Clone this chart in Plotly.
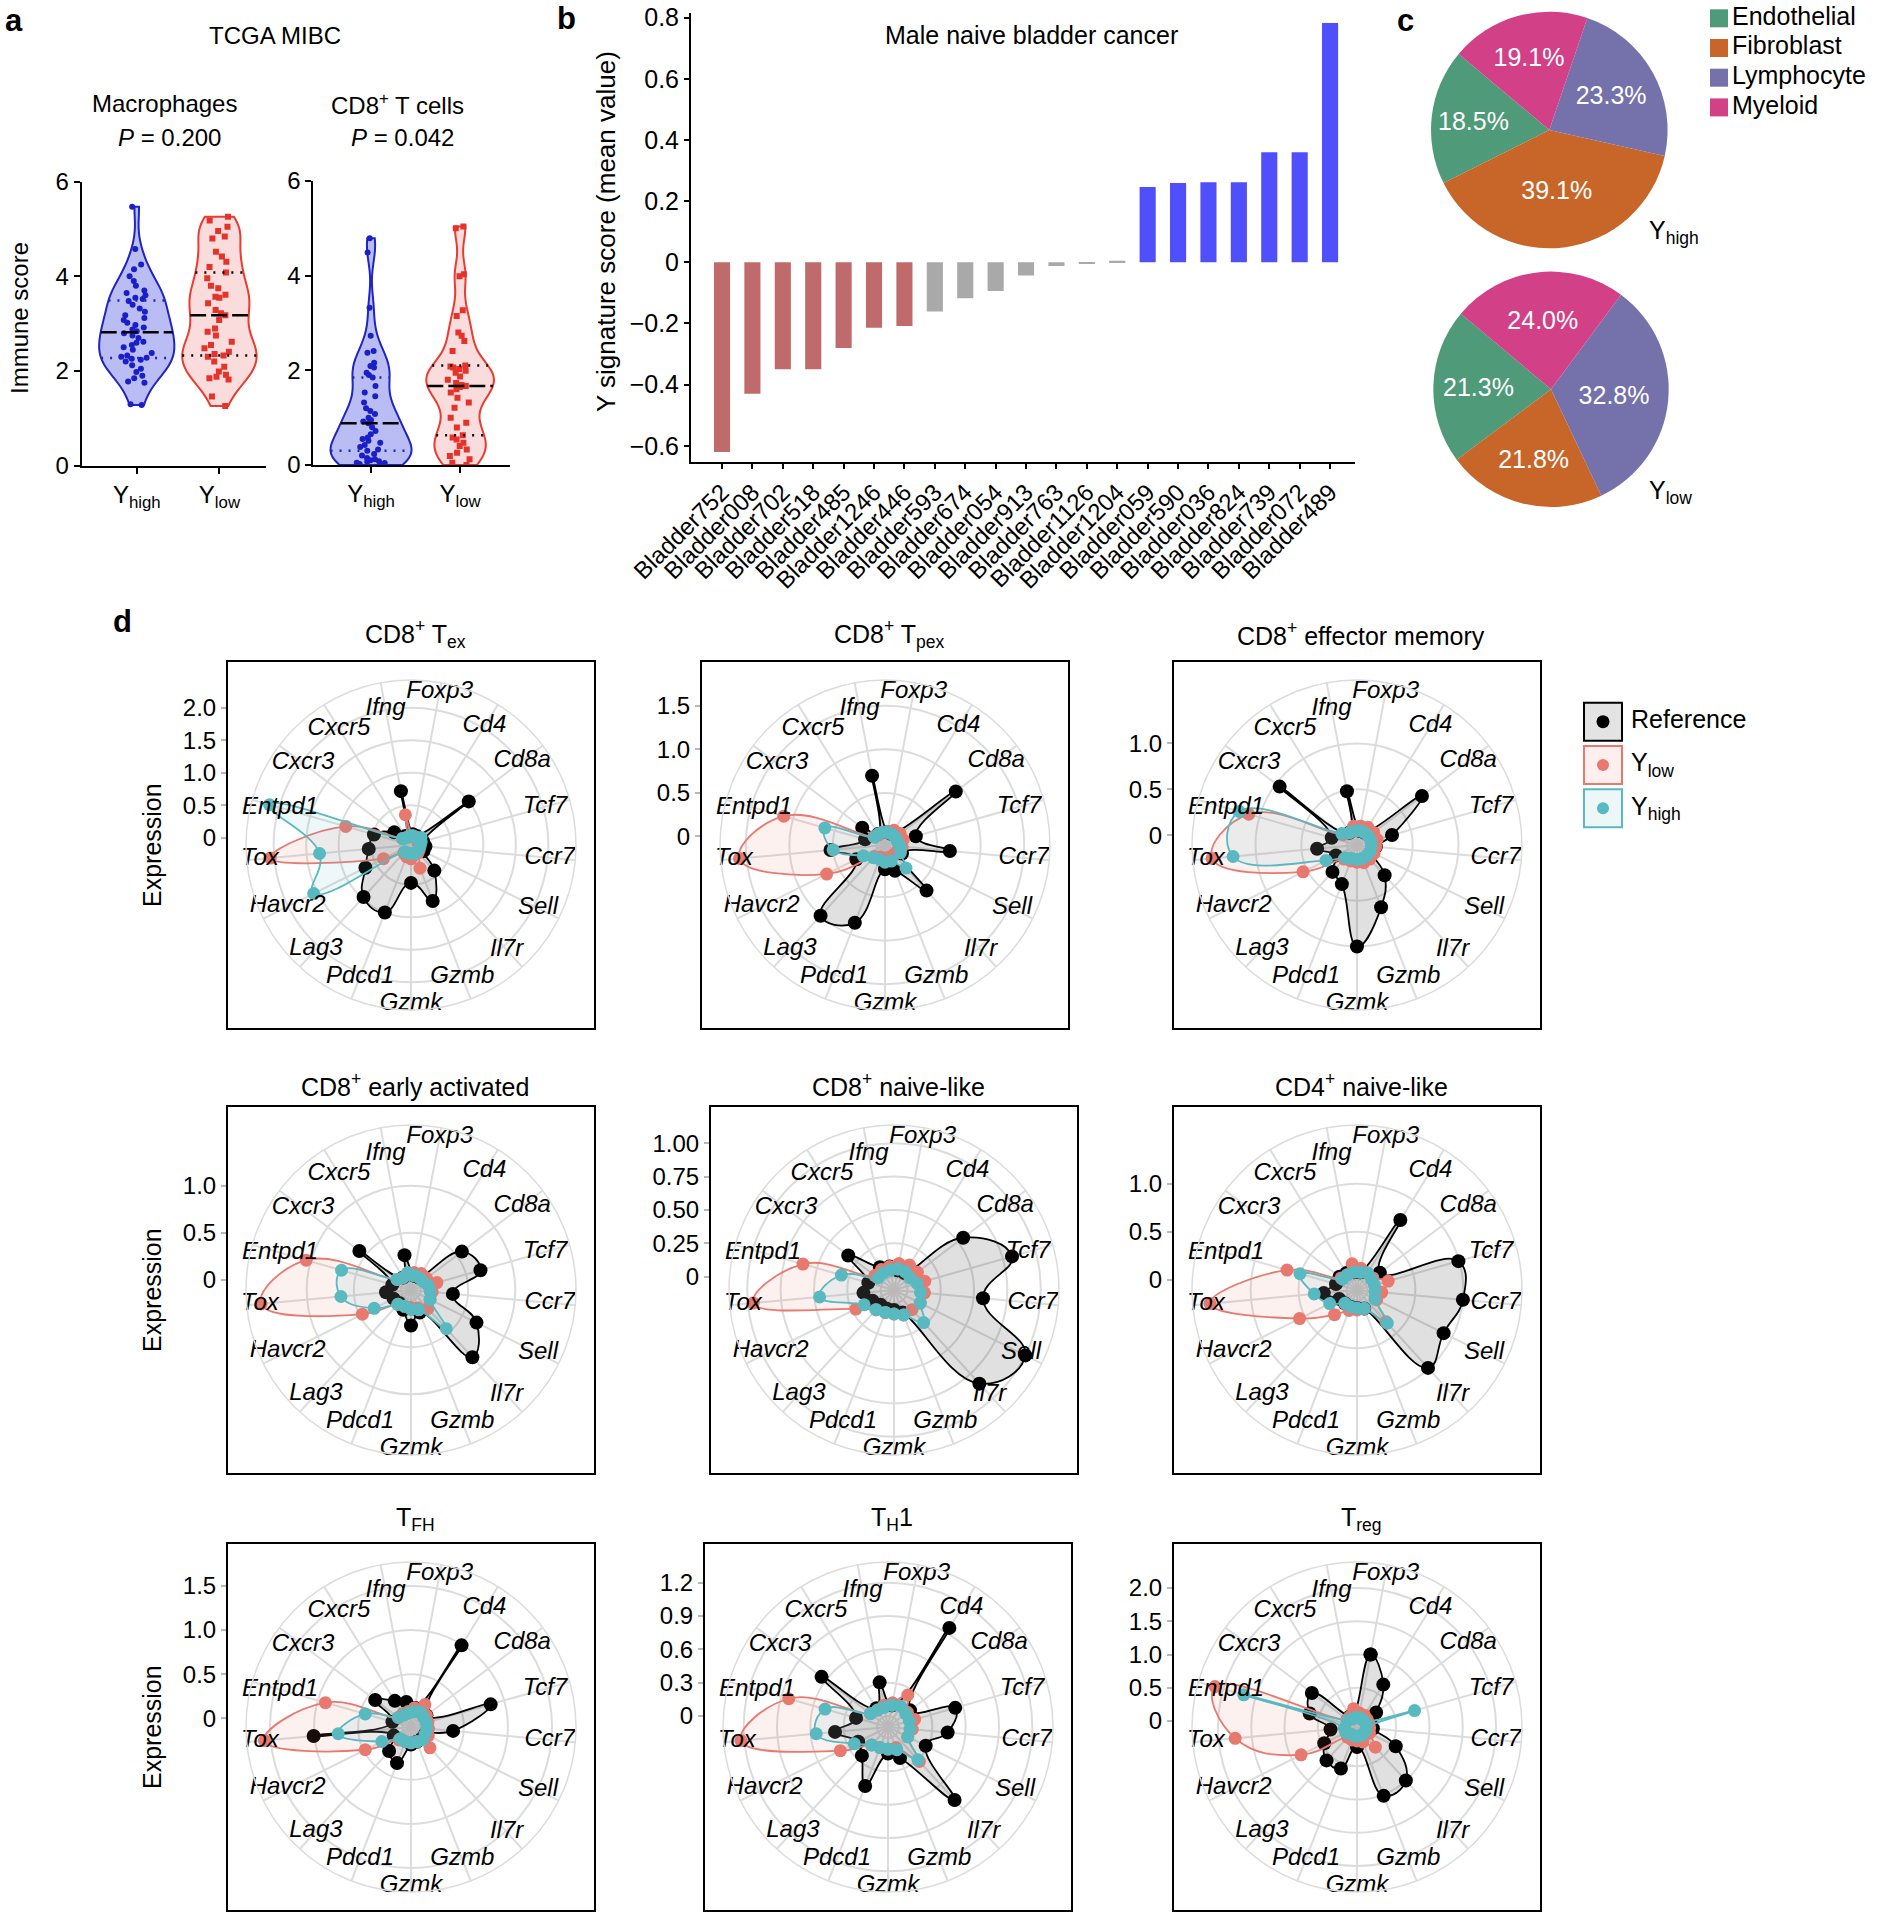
import numpy as np
import plotly.graph_objects as go

W, H = 1877, 1917
FONT = "Liberation Sans"
GRID = "#dcdcdc"

# ---------------- panel a: TCGA MIBC immune scores
MAC_HIGH = [1.28, 1.30, 1.75, 1.78, 1.85, 1.9, 1.98, 2.05, 2.12, 2.2, 2.24, 2.26, 2.28, 2.3, 2.33, 2.38,
            2.45, 2.5, 2.55, 2.6, 2.62, 2.7, 2.75, 2.8, 2.84, 2.88, 2.92, 2.97, 3.02, 3.08, 3.12, 3.18,
            3.25, 3.32, 3.4, 3.48, 3.52, 3.55, 3.6, 3.65, 3.7, 3.8, 3.9, 4.0, 4.15, 4.25, 4.58, 5.47]
MAC_LOW = [1.26, 1.46, 1.82, 1.85, 1.88, 1.92, 1.99, 2.09, 2.2, 2.3, 2.33, 2.36, 2.41, 2.48, 2.55, 2.62,
           2.75, 2.83, 2.9, 3.08, 3.18, 3.22, 3.29, 3.43, 3.55, 3.57, 3.61, 3.75, 3.8, 3.96, 4.08, 4.2,
           4.31, 4.42, 4.52, 4.8, 4.84, 4.96, 5.05, 5.18, 5.26]
CD8_HIGH = [0.0, 0.02, 0.04, 0.05, 0.07, 0.08, 0.1, 0.12, 0.15, 0.2, 0.23, 0.3, 0.33, 0.38, 0.42, 0.47,
            0.51, 0.55, 0.58, 0.65, 0.72, 0.8, 0.88, 0.92, 0.95, 1.0, 1.08, 1.14, 1.2, 1.32, 1.45, 1.53,
            1.67, 1.85, 1.9, 1.95, 2.06, 2.09, 2.16, 2.37, 2.41, 2.73, 3.32, 4.49, 4.79]
CD8_LOW = [0.0, 0.05, 0.12, 0.19, 0.26, 0.33, 0.4, 0.47, 0.54, 0.58, 0.63, 0.79, 0.89, 1.0, 1.21, 1.32,
           1.42, 1.53, 1.6, 1.65, 1.67, 1.69, 1.73, 1.8, 1.87, 1.95, 1.99, 2.03, 2.06, 2.08, 2.1, 2.41,
           2.62, 2.73, 2.8, 3.15, 3.27, 3.99, 4.03, 5.0, 5.04]
VIOLIN_TITLES = ["Macrophages", "CD8<sup>+</sup> T cells"]
P_VALUES = ["0.200", "0.042"]

# ---------------- panel b: male naive bladder cancer
SAMPLES = ["Bladder752", "Bladder008", "Bladder702", "Bladder518", "Bladder485", "Bladder1246",
           "Bladder446", "Bladder593", "Bladder674", "Bladder054", "Bladder913", "Bladder763",
           "Bladder1126", "Bladder1204", "Bladder059", "Bladder590", "Bladder036", "Bladder824",
           "Bladder739", "Bladder072", "Bladder489"]
SCORES = [-0.62, -0.43, -0.35, -0.35, -0.28, -0.214, -0.208, -0.161, -0.118, -0.094, -0.043,
          -0.012, -0.004, 0.005, 0.246, 0.259, 0.262, 0.262, 0.36, 0.36, 0.782]
GROUPS = ["low", "low", "low", "low", "low", "low", "low", "mid", "mid", "mid", "mid", "mid", "mid",
          "mid", "high", "high", "high", "high", "high", "high", "high"]
B_TICKS = [-0.6, -0.4, -0.2, 0, 0.2, 0.4, 0.6, 0.8]

# ---------------- panel c: cell type composition
CELL_TYPES = ["Endothelial", "Fibroblast", "Lymphocyte", "Myeloid"]
PCT_HIGH = [18.5, 39.1, 23.3, 19.1]
PCT_LOW = [21.3, 21.8, 32.8, 24.0]

# ---------------- panel d: radar plots
GENES = ["Foxp3", "Cd4", "Cd8a", "Tcf7", "Ccr7", "Sell", "Il7r", "Gzmb", "Gzmk", "Pdcd1", "Lag3",
         "Havcr2", "Tox", "Entpd1", "Cxcr3", "Cxcr5", "Ifng"]
TEX_REF = [0.05, 0.05, 1.0, 0.08, 0.11, 0.1, 0.42, 0.81, 0.47, 1.0, 0.97, 0.67, 0.54, 0.48, 0.21, 0.05, 0.73]
TEX_LOW = [0.02, 0.02, 0.02, 0.0, 0.02, 0.03, 0.05, 0.27, 0.1, 0.08, 0.05, 0.36, 2.06, 0.93, 0.05, 0.02, 0.36]
TEX_HIGH = [0.03, 0.03, 0.08, 0.05, 0.03, 0.02, 0.02, 0.03, 0.02, 0.02, 0.03, 1.56, 1.30, 2.15, 0.05, 0.02, 0.03]
TPEX_REF = [0.05, 0.05, 0.92, 0.27, 0.65, 0.12, 0.61, 0.22, 0.18, 0.86, 1.0, 0.27, 0.53, 0.14, 0.23, 0.05, 0.71]
TPEX_LOW = [0.06, 0.1, 0.12, 0.12, 0.1, 0.06, 0.05, 0.05, 0.05, 0.05, 0.08, 0.65, 1.58, 1.11, 0.06, 0.04, 0.05]
TPEX_HIGH = [0.05, 0.05, 0.05, 0.05, 0.08, 0.1, 0.26, 0.1, 0.1, 0.08, 0.1, 0.18, 0.5, 0.62, 0.05, 0.05, 0.05]
EM_REF = [0.05, 0.05, 0.78, 0.29, 0.1, 0.08, 0.34, 0.62, 1.0, 0.35, 0.29, 0.15, 0.33, 0.18, 0.95, 0.05, 0.49]
EM_LOW = [0.1, 0.12, 0.12, 0.12, 0.1, 0.1, 0.1, 0.1, 0.08, 0.08, 0.1, 0.55, 1.48, 1.12, 0.08, 0.05, 0.1]
EM_HIGH = [0.05, 0.05, 0.05, 0.05, 0.05, 0.05, 0.05, 0.05, 0.05, 0.05, 0.08, 0.27, 1.25, 1.23, 0.1, 0.05, 0.05]
EA_REF = [0.05, 0.05, 0.57, 0.66, 0.34, 0.67, 0.86, 0.15, 0.27, 0.12, 0.08, 0.1, 0.16, 0.1, 0.58, 0.05, 0.27]
EA_LOW = [0.08, 0.1, 0.1, 0.18, 0.12, 0.12, 0.16, 0.1, 0.08, 0.08, 0.1, 0.47, 1.49, 1.05, 0.08, 0.05, 0.08]
EA_HIGH = [0.05, 0.05, 0.05, 0.08, 0.1, 0.12, 0.45, 0.12, 0.1, 0.08, 0.1, 0.33, 0.64, 0.66, 0.08, 0.05, 0.08]
NL8_REF = [0.05, 0.05, 0.55, 0.82, 0.57, 1.0, 0.85, 0.08, 0.05, 0.05, 0.05, 0.08, 0.13, 0.1, 0.33, 0.1, 0.08]
NL8_LOW = [0.1, 0.12, 0.12, 0.14, 0.13, 0.12, 0.1, 0.1, 0.08, 0.08, 0.1, 0.22, 0.96, 0.61, 0.08, 0.08, 0.08]
NL8_HIGH = [0.06, 0.06, 0.05, 0.08, 0.1, 0.12, 0.23, 0.1, 0.08, 0.08, 0.1, 0.15, 0.46, 0.31, 0.05, 0.05, 0.05]
NL4_REF = [0.08, 0.75, 0.19, 0.99, 1.0, 0.90, 0.99, 0.1, 0.08, 0.08, 0.08, 0.1, 0.24, 0.12, 0.12, 0.1, 0.08]
NL4_LOW = [0.12, 0.1, 0.1, 0.23, 0.15, 0.12, 0.34, 0.1, 0.1, 0.12, 0.24, 0.56, 1.43, 0.65, 0.1, 0.08, 0.17]
NL4_HIGH = [0.08, 0.1, 0.08, 0.08, 0.08, 0.1, 0.36, 0.1, 0.08, 0.08, 0.08, 0.21, 0.34, 0.51, 0.08, 0.08, 0.08]
TFH_REF = [0.12, 0.99, 0.12, 0.84, 0.38, 0.08, 0.08, 0.08, 0.1, 0.34, 0.27, 0.12, 1.01, 0.12, 0.41, 0.25, 0.19]
TFH_LOW = [0.12, 0.2, 0.12, 0.1, 0.1, 0.12, 0.22, 0.08, 0.08, 0.08, 0.1, 0.48, 1.57, 0.91, 0.08, 0.08, 0.08]
TFH_HIGH = [0.08, 0.1, 0.08, 0.08, 0.08, 0.08, 0.1, 0.08, 0.08, 0.08, 0.08, 0.27, 0.73, 0.44, 0.08, 0.06, 0.06]
TH1_REF = [0.1, 0.95, 0.15, 0.53, 0.44, 0.28, 0.79, 0.2, 0.14, 0.47, 0.25, 0.2, 0.38, 0.2, 0.65, 0.1, 0.31]
TH1_LOW = [0.12, 0.24, 0.12, 0.15, 0.12, 0.1, 0.32, 0.1, 0.1, 0.1, 0.12, 0.38, 1.23, 0.83, 0.1, 0.08, 0.1]
TH1_HIGH = [0.1, 0.12, 0.1, 0.1, 0.1, 0.1, 0.3, 0.12, 0.1, 0.1, 0.12, 0.24, 0.55, 0.49, 0.1, 0.08, 0.08]
TREG_REF = [1.02, 0.66, 0.27, 0.12, 0.15, 0.56, 1.0, 1.02, 0.21, 0.58, 0.59, 0.46, 0.31, 0.65, 0.76, 0.1, 0.12]
TREG_LOW = [0.12, 0.12, 0.1, 0.1, 0.1, 0.12, 0.32, 0.15, 0.12, 0.12, 0.12, 0.85, 1.75, 2.13, 0.1, 0.1, 0.19]
TREG_HIGH = [0.05, 0.05, 0.05, 0.81, 0.05, 0.05, 0.05, 0.05, 0.05, 0.05, 0.05, 0.1, 0.1, 1.68, 0.08, 0.05, 0.05]
LEGEND_NAMES = ["Reference", "Y<sub>low</sub>", "Y<sub>high</sub>"]

# (title, series, box left/top px, radial range, ticks)
PANELS = [
    ("CD8<sup>+</sup> T<sub>ex</sub>", (TEX_REF, TEX_LOW, TEX_HIGH), 228, 662, (-0.113, 2.425),
     [0, 0.5, 1, 1.5, 2], ["0", "0.5", "1.0", "1.5", "2.0"]),
    ("CD8<sup>+</sup> T<sub>pex</sub>", (TPEX_REF, TPEX_LOW, TPEX_HIGH), 702, 662, (-0.098, 1.796),
     [0, 0.5, 1, 1.5], ["0", "0.5", "1.0", "1.5"]),
    ("CD8<sup>+</sup> effector memory", (EM_REF, EM_LOW, EM_HIGH), 1174, 662, (-0.107, 1.692),
     [0, 0.5, 1], ["0", "0.5", "1.0"]),
    ("CD8<sup>+</sup> early activated", (EA_REF, EA_LOW, EA_HIGH), 228, 1107, (-0.106, 1.644),
     [0, 0.5, 1], ["0", "0.5", "1.0"]),
    ("CD8<sup>+</sup> naive-like", (NL8_REF, NL8_LOW, NL8_HIGH), 711, 1107, (-0.1, 1.137),
     [0, 0.25, 0.5, 0.75, 1], ["0", "0.25", "0.50", "0.75", "1.00"]),
    ("CD4<sup>+</sup> naive-like", (NL4_REF, NL4_LOW, NL4_HIGH), 1174, 1107, (-0.108, 1.611),
     [0, 0.5, 1], ["0", "0.5", "1.0"]),
    ("T<sub>FH</sub>", (TFH_REF, TFH_LOW, TFH_HIGH), 228, 1544, (-0.099, 1.772),
     [0, 0.5, 1, 1.5], ["0", "0.5", "1.0", "1.5"]),
    ("T<sub>H</sub>1", (TH1_REF, TH1_LOW, TH1_HIGH), 705, 1544, (-0.099, 1.386),
     [0, 0.3, 0.6, 0.9, 1.2], ["0", "0.3", "0.6", "0.9", "1.2"]),
    ("T<sub>reg</sub>", (TREG_REF, TREG_LOW, TREG_HIGH), 1174, 1544, (-0.09, 2.391),
     [0, 0.5, 1, 1.5, 2], ["0", "0.5", "1.0", "1.5", "2.0"]),
]

BOX = 366
RAD = 165
TITLE_GAP = {662: 28, 1107: 22, 1544: 25}
LABEL_FRAC = [0.945, 0.845, 0.845, 0.845, 0.845, 0.86, 0.86, 0.86, 0.965, 0.855, 0.855, 0.835, 0.92,
              0.825, 0.82, 0.83, 0.84]
SERIES_STYLE = [
    dict(color="black", fill="rgba(0,0,0,0.12)", size=14, box="#e3e3e3"),
    dict(color="#E8796F", fill="rgba(232,121,111,0.1)", size=13, box="#fcefed"),
    dict(color="#58B9C0", fill="rgba(88,185,192,0.1)", size=13, box="#eef7f8"),
]


def fx(px):
    return px / W


def fy(py):
    return 1 - py / H


fig = go.Figure()
layout = dict(width=W, height=H, margin=dict(l=0, r=0, t=0, b=0), template="none",
              paper_bgcolor="white", plot_bgcolor="rgba(0,0,0,0)",
              font=dict(family=FONT, color="black", size=20), violinmode="overlay",
              showlegend=False)
annotations = []


def note(text, x, y, size=22, xanchor="center", **kw):
    annotations.append(dict(text=text, x=fx(x), y=fy(y), xref="paper", yref="paper", showarrow=False,
                            xanchor=xanchor, yanchor="middle",
                            font=dict(size=size, family=FONT, color="black"), **kw))


def pixel_axes(n, x0, x1, y0, y1):
    layout[f"xaxis{n}"] = dict(domain=[fx(x0), fx(x1)], range=[x0, x1], anchor=f"y{n}", visible=False)
    layout[f"yaxis{n}"] = dict(domain=[fy(y1), fy(y0)], range=[y1, y0], anchor=f"x{n}", visible=False)


# ---------------- panel a
VIOLIN_AXES = [(81.7, 265.7, 181.7, 465.7, [-0.666, 1.56]),
               (313.3, 510, 181, 465, [-0.648, 1.56])]
VIOLIN_TITLE_X = [164, 397]
VIOLIN_WIDTH = [[0.91, 0.9], [0.91, 0.76]]
STYLE_HIGH = dict(line="#1f24c4", fill="#b9bdf3", point="#1a1fc8", symbol="circle", quart="#1f24c4")
STYLE_LOW = dict(line="#eb3b30", fill="#f9dcdb", point="#e5322a", symbol="square", quart="black")
BW = 0.32

for i, groups in enumerate([(MAC_HIGH, MAC_LOW), (CD8_HIGH, CD8_LOW)]):
    sfx = "" if i == 0 else str(i + 1)
    xa, ya = "x" + sfx, "y" + sfx
    for j, (vals, st) in enumerate(zip(groups, (STYLE_HIGH, STYLE_LOW))):
        w = VIOLIN_WIDTH[i][j]
        fig.add_trace(go.Violin(y=vals, x0=j, width=w, bandwidth=BW, spanmode="hard", scalemode="width",
                                points="all", pointpos=0, jitter=0.45,
                                marker=dict(size=6, color=st["point"], symbol=st["symbol"]),
                                line=dict(color=st["line"], width=2), fillcolor=st["fill"],
                                box_visible=False, meanline_visible=False, xaxis=xa, yaxis=ya,
                                hoverinfo="skip"))
        v = np.asarray(vals)

        def dens(t, v=v):
            t = np.atleast_1d(t)
            return np.exp(-0.5 * ((t[:, None] - v[None, :]) / BW) ** 2).sum(1)

        dmax = dens(np.linspace(v.min(), v.max(), 400)).max()
        for q, dash, col in ((0.25, "2px,7px", st["quart"]), (0.5, "16px,5px", "black"),
                             (0.75, "2px,7px", st["quart"])):
            qv = float(np.quantile(v, q))
            hw = w / 2 * dens(qv)[0] / dmax
            fig.add_trace(go.Scatter(x=[j - hw, j + hw], y=[qv, qv], mode="lines",
                                     line=dict(color=col, width=2.5, dash=dash), xaxis=xa, yaxis=ya,
                                     hoverinfo="skip"))

for i, (x0, x1, yt, yb, xr) in enumerate(VIOLIN_AXES):
    sfx = "" if i == 0 else str(i + 1)
    layout["xaxis" + sfx] = dict(domain=[fx(x0), fx(x1)], range=xr, anchor="y" + sfx, tickvals=[0, 1],
                                 ticktext=["Y<sub>high</sub>", "Y<sub>low</sub>"], ticks="outside",
                                 ticklen=6, tickwidth=2, tickcolor="black", showline=True,
                                 linecolor="black", linewidth=2, showgrid=False, zeroline=False,
                                 tickfont=dict(size=24))
    layout["yaxis" + sfx] = dict(domain=[fy(yb), fy(yt)], range=[0, 6], anchor="x" + sfx,
                                 tickvals=[0, 2, 4, 6], ticks="outside", ticklen=6, tickwidth=2,
                                 tickcolor="black", showline=True, linecolor="black", linewidth=2,
                                 showgrid=False, zeroline=False, tickfont=dict(size=24))
    note(VIOLIN_TITLES[i], VIOLIN_TITLE_X[i], 104, 24)
    note("<i>P</i> = " + P_VALUES[i], VIOLIN_TITLE_X[i] + 5, 137, 24)

note("<b>a</b>", 14, 20, 31)
note("TCGA MIBC", 275, 35, 24)
note("Immune score", 20, 318, 24, textangle=-90)

# ---------------- panel b
GROUP_COLORS = {"low": "#c06b6b", "mid": "#a9a9a9", "high": "#4f4ffc"}
fig.add_trace(go.Bar(x=list(range(len(SAMPLES))), y=SCORES, width=0.53,
                     marker=dict(color=[GROUP_COLORS[g] for g in GROUPS], line=dict(width=0)),
                     xaxis="x3", yaxis="y3", hoverinfo="skip"))
layout["xaxis3"] = dict(domain=[fx(691), fx(1355)], range=[-1.02, 20.82], anchor="y3",
                        tickvals=list(range(len(SAMPLES))), ticktext=SAMPLES, tickangle=-45,
                        ticks="outside", ticklen=5, tickwidth=1.5, tickcolor="black", showline=True,
                        linecolor="black", linewidth=2, showgrid=False, zeroline=False,
                        tickfont=dict(size=24))
layout["yaxis3"] = dict(domain=[fy(461.7), fy(13)], range=[-0.652, 0.815], anchor="x3",
                        tickvals=B_TICKS,
                        ticktext=[("\u2212" if t < 0 else "") + (f"{abs(t):.1f}" if t else "0") for t in B_TICKS],
                        ticks="outside", ticklen=5, tickwidth=1.5, tickcolor="black", showline=True,
                        linecolor="black", linewidth=2, showgrid=False, zeroline=False,
                        tickfont=dict(size=25))
note("<b>b</b>", 566, 18, 31)
note("Male naive bladder cancer", 1031, 35, 25)
note("Y signature score (mean value)", 606, 232, 26, textangle=-90)

# ---------------- panel c
CELL_COLORS = ["#4e9a79", "#c8662a", "#7571ab", "#d24087"]
PIE_START = -50  # clockwise edge of the first slice, degrees from 12 o'clock
PIES = [(PCT_HIGH, 1549.3, 130, 118.3, "Y<sub>high</sub>", 232),
        (PCT_LOW, 1551, 389.3, 117.7, "Y<sub>low</sub>", 492)]
for pct, cx, cy, r, lab, ly in PIES:
    rot = PIE_START - 360 * pct[0] / sum(pct)
    fig.add_trace(go.Pie(labels=CELL_TYPES, values=pct, sort=False, direction="counterclockwise",
                         rotation=rot, marker=dict(colors=CELL_COLORS, line=dict(width=0)),
                         texttemplate="%{value:.1f}%", textposition="inside",
                         insidetextorientation="horizontal",
                         textfont=dict(color="white", size=25, family=FONT),
                         domain=dict(x=[fx(cx - r), fx(cx + r)], y=[fy(cy + r), fy(cy - r)]),
                         hoverinfo="skip"))
    note(lab, 1647, ly, 25, xanchor="left")
note("<b>c</b>", 1405, 20, 31)

# pie legend in pixel axes
pixel_axes(13, 1700, 1877, 0, 125)
for i, (name, col) in enumerate(zip(CELL_TYPES, CELL_COLORS)):
    yc = 18.3 + i * 29.7
    fig.add_trace(go.Scatter(x=[1719], y=[yc], mode="markers", xaxis="x13", yaxis="y13",
                             marker=dict(symbol="square", size=18, color=col), hoverinfo="skip"))
    fig.add_trace(go.Scatter(x=[1732], y=[yc], mode="text", text=[name], textposition="middle right",
                             textfont=dict(size=25, family=FONT, color="black"),
                             xaxis="x13", yaxis="y13", hoverinfo="skip"))

# ---------------- panel d
for k, (title, series, bx, by, (rmin, rmax), tv, tt) in enumerate(PANELS):
    n = k + 4
    pid = "polar" if k == 0 else f"polar{k + 1}"
    cx, cy = bx + BOX / 2, by + BOX / 2
    ppu = RAD / (rmax - rmin)
    for vals, st in zip(series, SERIES_STYLE):
        fig.add_trace(go.Scatterpolar(r=list(vals) + [vals[0]], theta=GENES + [GENES[0]], subplot=pid,
                                      mode="lines+markers", fill="toself", fillcolor=st["fill"],
                                      line=dict(color=st["color"], width=1.8, shape="spline",
                                                smoothing=1.3),
                                      marker=dict(size=st["size"], color=st["color"]),
                                      hoverinfo="skip"))
    fig.add_trace(go.Scatterpolar(r=[rmin + f * (rmax - rmin) for f in LABEL_FRAC], theta=GENES,
                                  subplot=pid, mode="text", text=[f"<i>{g}</i>" for g in GENES],
                                  textfont=dict(size=24, color="black", family=FONT),
                                  hoverinfo="skip"))
    layout[pid] = dict(
        domain=dict(x=[fx(cx - RAD), fx(cx + RAD)], y=[fy(cy + RAD), fy(cy - RAD)]),
        bgcolor="rgba(0,0,0,0)",
        radialaxis=dict(range=[rmin, rmax], tickvals=tv, showticklabels=False, ticks="",
                        showline=False, gridcolor=GRID, gridwidth=1.5),
        angularaxis=dict(type="category", categoryarray=GENES, direction="clockwise",
                         rotation=90 - 180 / 17, showticklabels=False, ticks="", gridcolor=GRID,
                         gridwidth=1.5, showline=True, linecolor=GRID, linewidth=1.5))
    layout[f"xaxis{n}"] = dict(domain=[fx(bx), fx(bx + BOX)], range=[0, 1], anchor=f"y{n}",
                               showline=True, mirror=True, linecolor="black", linewidth=2,
                               ticks="", showticklabels=False, showgrid=False, zeroline=False)
    layout[f"yaxis{n}"] = dict(domain=[fy(by + BOX), fy(by)],
                               range=[rmin - BOX / 2 / ppu, rmin + BOX / 2 / ppu], anchor=f"x{n}",
                               tickvals=tv, ticktext=tt, ticks="outside", ticklen=5, tickwidth=1.5,
                               tickcolor="#b8b8b8", showline=True, mirror=True, linecolor="black",
                               linewidth=2, showgrid=False, zeroline=False, tickfont=dict(size=24))
    fig.add_trace(go.Scatter(x=[], y=[], xaxis=f"x{n}", yaxis=f"y{n}"))
    note(title, cx + 4, by - TITLE_GAP[by], 25)
    if bx < 400:
        note("Expression", 152, cy, 25, textangle=-90)

note("<b>d</b>", 122, 621, 31)

# radar legend in pixel axes
pixel_axes(14, 1575, 1877, 690, 840)
for i, (name, st) in enumerate(zip(LEGEND_NAMES, SERIES_STYLE)):
    yc = 721.7 + i * 43.3
    fig.add_trace(go.Scatter(x=[1603], y=[yc], mode="markers", xaxis="x14", yaxis="y14",
                             marker=dict(symbol="square", size=38, color=st["box"],
                                         line=dict(color=st["color"], width=2)),
                             hoverinfo="skip"))
    fig.add_trace(go.Scatter(x=[1603], y=[yc], mode="markers", xaxis="x14", yaxis="y14",
                             marker=dict(size=st["size"] - 1, color=st["color"]), hoverinfo="skip"))
    fig.add_trace(go.Scatter(x=[1631], y=[yc], mode="text", text=[name], textposition="middle right",
                             textfont=dict(size=25, family=FONT, color="black"),
                             xaxis="x14", yaxis="y14", hoverinfo="skip"))

layout["annotations"] = annotations
fig.update_layout(**layout)
fig.write_html("out.html", config={"displayModeBar": False},
               post_script="document.body.style.margin='0px';")
